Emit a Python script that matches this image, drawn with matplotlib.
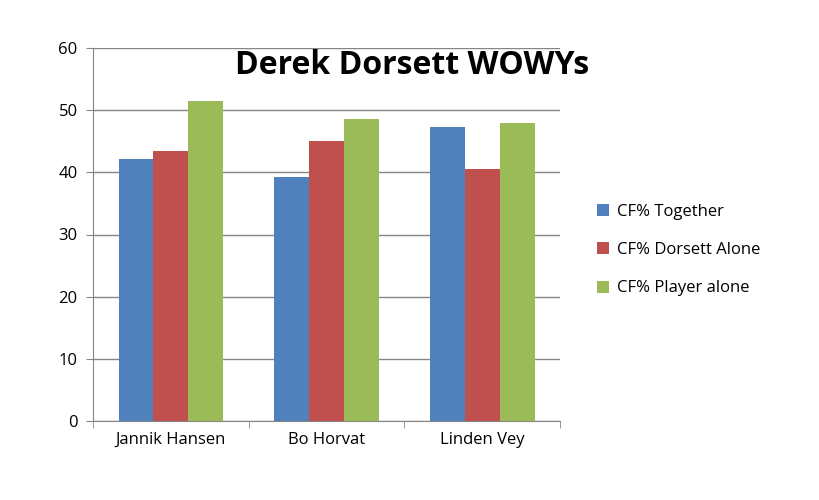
import matplotlib
matplotlib.use("Agg")
import matplotlib.pyplot as plt
import numpy as np

categories = ["Jannik Hansen", "Bo Horvat", "Linden Vey"]
together = [42.2, 39.3, 47.3]
dorsett_alone = [43.5, 45.0, 40.6]
player_alone = [51.5, 48.6, 48.0]
series_names = ["CF% Together", "CF% Dorsett Alone", "CF% Player alone"]
colors = ["#4F81BD", "#C0504D", "#9BBB59"]

plt.rcParams['font.family'] = ['Open Sans', 'DejaVu Sans']
fig = plt.figure(figsize=(8.2, 5.0), dpi=100)
ax = fig.add_axes([0.1134, 0.158, 0.5696, 0.746])
x = np.arange(len(categories))
w = 0.224
for i, (vals, name, c) in enumerate(zip([together, dorsett_alone, player_alone], series_names, colors)):
    ax.bar(x + (i - 1) * w, vals, w, color=c, label=name, zorder=3)
ax.set_xlim(-0.5, 2.5)
ax.set_ylim(0, 60)
ax.set_yticks(range(0, 61, 10))
ax.yaxis.grid(True, color="#868686", lw=1, zorder=0)
ax.set_xticks(x)
ax.set_xticklabels(categories, fontsize=12)
ax.set_xticks([-0.5, 0.5, 1.5, 2.5], minor=True)
ax.tick_params(axis='x', which='major', length=0, pad=8)
ax.tick_params(axis='x', which='minor', length=5, color="#868686")
ax.tick_params(axis='y', length=5, color="#868686", labelsize=12, pad=6)
for s in ["top", "right"]:
    ax.spines[s].set_visible(False)
for s in ["left", "bottom"]:
    ax.spines[s].set_color("#868686")
fig.text(0.503, 0.868, "Derek Dorsett WOWYs", ha="center", va="center",
         fontsize=23, fontweight="bold")
leg = fig.legend(loc="center left", bbox_to_anchor=(0.71, 0.5), frameon=False, fontsize=12,
                 handlelength=0.7, handleheight=0.7, labelspacing=1.35, handletextpad=0.5)
fig.savefig("out.png", dpi=100)
